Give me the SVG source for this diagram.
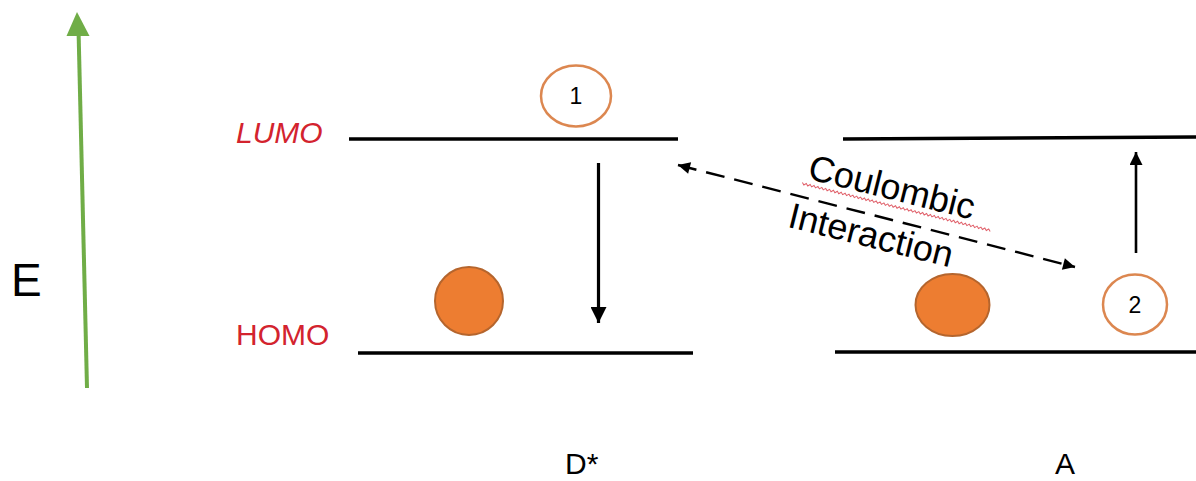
<svg xmlns="http://www.w3.org/2000/svg" width="1196" height="481" viewBox="0 0 1196 481">
<defs>
<marker id="ah" viewBox="0 0 10 10" refX="10" refY="5" markerWidth="5" markerHeight="5" markerUnits="strokeWidth" orient="auto-start-reverse">
<path d="M0,0 L10,5 L0,10 z" fill="#000"/>
</marker>
<marker id="ahs" viewBox="0 0 10 10" refX="10" refY="5" markerWidth="5.5" markerHeight="5" markerUnits="strokeWidth" orient="auto-start-reverse">
<path d="M0,0 L10,5 L0,10 z" fill="#000"/>
</marker>
</defs>
<style>
.t{font-family:"Liberation Sans",Arial,sans-serif;fill:#000}
.red{fill:#d3232e}
.lvl{stroke:#000;stroke-width:3.5;fill:none}
.hole{fill:#fff;stroke:#dc8750;stroke-width:2.5}
.elec{fill:#ed7d31;stroke:#b5652d;stroke-width:2}
</style>
<rect width="1196" height="481" fill="#fff"/>

<g id="energy-axis">
<line x1="87" y1="388" x2="78.6" y2="33" stroke="#70ad47" stroke-width="4"/>
<path d="M77,12 L89.5,36 L66.5,36 z" fill="#70ad47"/>
<text class="t" x="11" y="296" font-size="46">E</text>
</g>

<g id="labels">
<text class="t red" x="236" y="143" font-size="30" font-style="italic">LUMO</text>
<text class="t red" x="236" y="345" font-size="30">HOMO</text>
<text class="t" x="565" y="474" font-size="30">D*</text>
<text class="t" x="1055" y="474" font-size="30">A</text>
</g>

<g id="donor">
<line class="lvl" x1="349" y1="139" x2="678" y2="139"/>
<line class="lvl" x1="358" y1="353" x2="693" y2="353"/>
<ellipse class="hole" cx="576" cy="96" rx="35" ry="30.5"/>
<text class="t" x="576" y="104" font-size="23" text-anchor="middle">1</text>
<circle class="elec" cx="469" cy="301" r="34"/>
</g>

<g id="acceptor">
<line class="lvl" x1="843" y1="139" x2="1196" y2="137"/>
<line class="lvl" x1="835" y1="352" x2="1196" y2="352"/>
<ellipse class="elec" cx="952.5" cy="305" rx="37" ry="31"/>
<ellipse class="hole" cx="1135" cy="304.5" rx="32" ry="30"/>
<text class="t" x="1135" y="312.5" font-size="23" text-anchor="middle">2</text>
</g>

<g id="connectors">
<line x1="598.5" y1="163" x2="598.5" y2="323" stroke="#000" stroke-width="3.2" marker-end="url(#ah)"/>
<line x1="1136" y1="253" x2="1136" y2="152" stroke="#000" stroke-width="2.6" marker-end="url(#ah)"/>
<line x1="678" y1="165" x2="1075" y2="267" stroke="#000" stroke-width="2.4" stroke-dasharray="19 10" marker-start="url(#ahs)" marker-end="url(#ahs)"/>
</g>

<g id="interaction-label">
<g transform="translate(889,199) rotate(14)">
<text class="t" x="0" y="0" font-size="36" text-anchor="middle">Coulombic</text>
<path d="M-88,5 l2,2 l2,-2 l2,2 l2,-2 l2,2 l2,-2 l2,2 l2,-2 l2,2 l2,-2 l2,2 l2,-2 l2,2 l2,-2 l2,2 l2,-2 l2,2 l2,-2 l2,2 l2,-2 l2,2 l2,-2 l2,2 l2,-2 l2,2 l2,-2 l2,2 l2,-2 l2,2 l2,-2 l2,2 l2,-2 l2,2 l2,-2 l2,2 l2,-2 l2,2 l2,-2 l2,2 l2,-2 l2,2 l2,-2 l2,2 l2,-2 l2,2 l2,-2 l2,2 l2,-2 l2,2 l2,-2 l2,2 l2,-2 l2,2 l2,-2 l2,2 l2,-2 l2,2 l2,-2 l2,2 l2,-2 l2,2 l2,-2 l2,2 l2,-2 l2,2 l2,-2 l2,2 l2,-2 l2,2 l2,-2 l2,2 l2,-2 l2,2 l2,-2 l2,2 l2,-2 l2,2 l2,-2 l2,2 l2,-2 l2,2 l2,-2 l2,2 l2,-2 l2,2 l2,-2 l2,2 l2,-2 l2,2 l2,-2 l2,2 l2,-2 l2,2 l2,-2 l2,2 l2,-2 l2,2" fill="none" stroke="#e0606a" stroke-width="1"/>
</g>
<text class="t" x="0" y="0" font-size="36" text-anchor="middle" transform="translate(868,247) rotate(14)">Interaction</text>
</g>
</svg>
